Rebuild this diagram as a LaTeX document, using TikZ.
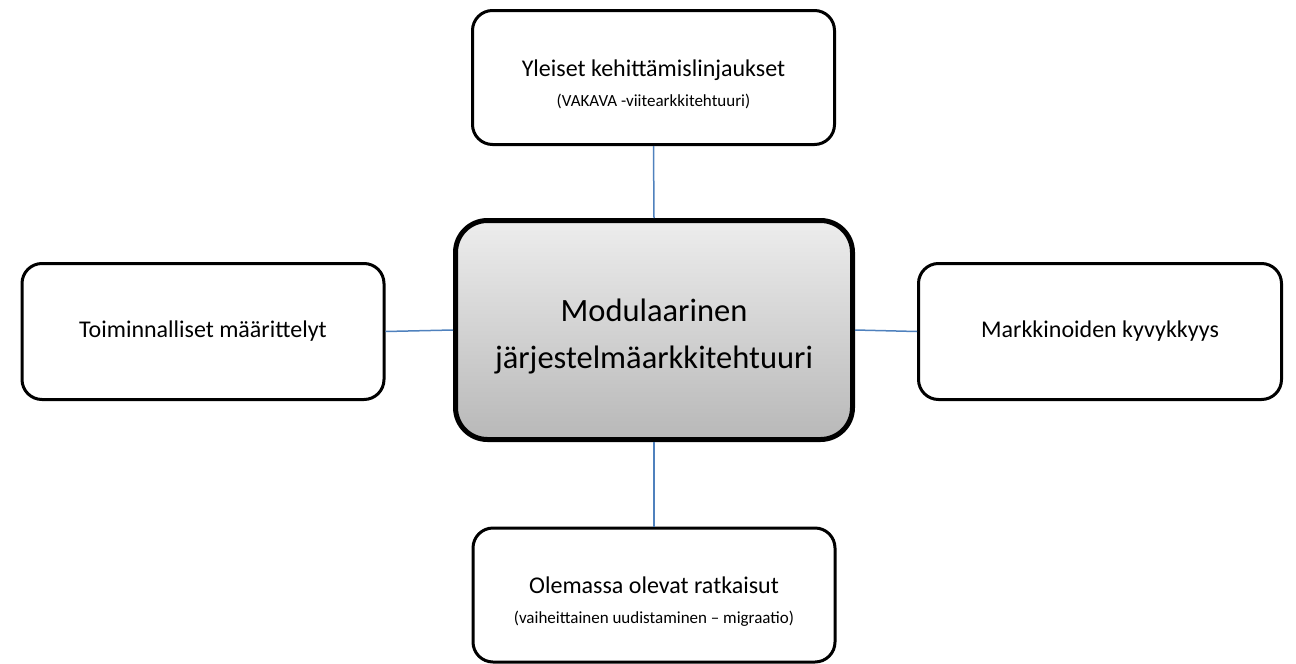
\documentclass[tikz,border=0pt]{standalone}
\usepackage{fontspec}
\setmainfont{Carlito}
\definecolor{linkblue}{HTML}{4F81BD}
\definecolor{shtop}{HTML}{EDEDED}
\definecolor{shbot}{HTML}{B8B8B8}
\newcommand{\tstrut}[1]{\rule{0pt}{#1}}
\begin{document}
\begin{tikzpicture}[x=1pt,y=-1pt,
  outerbox/.style={draw=black,line width=3pt,rounded corners=20pt,fill=white,align=center,inner sep=0pt,font=\fontsize{24}{30}\selectfont},
  centerbox/.style={draw=black,line width=5pt,rounded corners=32pt,top color=shtop,bottom color=shbot,align=center,inner sep=0pt,font=\fontsize{32.5}{47}\selectfont},
  link/.style={draw=linkblue,line width=1.5pt}]
\useasboundingbox (0,0) rectangle (1296,664);
\node[outerbox,minimum width=362pt,minimum height=134pt] (top) at (653.5,77.5)
  {\tstrut{30pt}Yleiset kehittämislinjaukset\\{\fontsize{17}{20}\selectfont (VAKAVA -viitearkkitehtuuri)}};
\node[centerbox,minimum width=397pt,minimum height=219pt] (mid) at (654,330)
  {\tstrut{35pt}Modulaarinen\\järjestelmäarkkitehtuuri};
\node[outerbox,minimum width=362pt,minimum height=136pt] (left) at (203,331.5)
  {Toiminnalliset määrittelyt};
\node[outerbox,minimum width=363pt,minimum height=136pt] (right) at (1100,331.5)
  {Markkinoiden kyvykkyys};
\node[outerbox,minimum width=362pt,minimum height=134pt] (bot) at (654,595)
  {\tstrut{30pt}Olemassa olevat ratkaisut\\{\fontsize{17}{20}\selectfont (vaiheittainen uudistaminen -- migraatio)}};
\draw[link] (top.south) -- (mid.north);
\draw[link] (mid.south) -- (bot.north);
\draw[link] (left.east) -- (mid.west);
\draw[link] (mid.east) -- (right.west);
\end{tikzpicture}
\end{document}
